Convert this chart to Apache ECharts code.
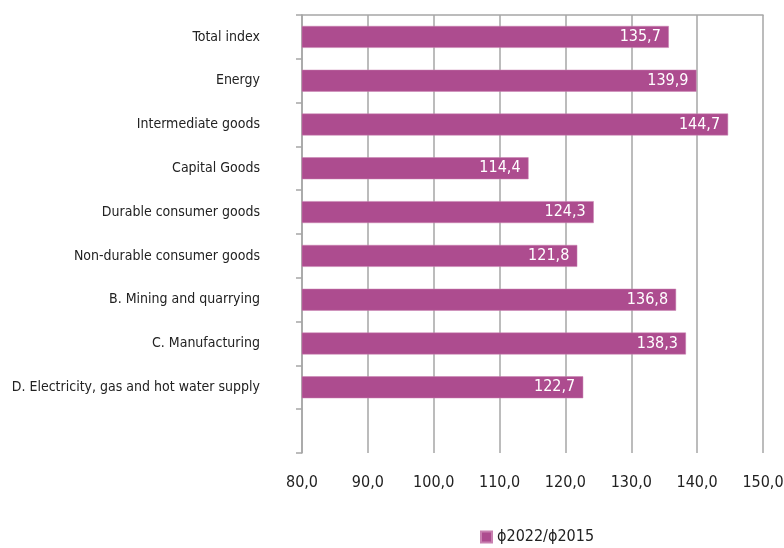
<!DOCTYPE html>
<html><head><meta charset="utf-8">
<script src="https://cdn.jsdelivr.net/npm/echarts@6/dist/echarts.min.js"></script>
<style>html,body{margin:0;padding:0;background:#fff}#c{width:784px;height:548px}</style>
</head><body><div id="c"></div>
<script>
const categories = ['Total index','Energy','Intermediate goods','Capital Goods','Durable consumer goods','Non-durable consumer goods','B. Mining and quarrying','C. Manufacturing','D. Electricity, gas and hot water supply',''];
const values = [135.7,139.9,144.7,114.4,124.3,121.8,136.8,138.3,122.7,null];
const seriesName = 'ϕ2022/ϕ2015';
const xMin = 80, xMax = 150, xStep = 10;

const FONT = '"DejaVu Sans Condensed","Liberation Sans",sans-serif';
const chart = echarts.init(document.getElementById('c'));
chart.setOption({
  animation: false,
  textStyle: {fontFamily: FONT},
  grid: {left: 302, right: 21, top: 15, bottom: 95, containLabel: false, outerBoundsMode: 'none'},
  legend: {
    bottom: -2, left: 475, itemWidth: 11, itemHeight: 11, icon: 'rect', itemGap: 6,
    textStyle: {fontFamily: FONT, fontSize: 16, color: '#222'},
    data: [seriesName]
  },
  xAxis: [{
    type: 'value', min: xMin, max: xMax, interval: xStep, position: 'bottom',
    axisLine: {show: false}, axisTick: {show: false},
    axisLabel: {fontFamily: FONT, fontSize: 16, color: '#222', margin: 22,
      formatter: v => v.toFixed(1).replace('.', ',')},
    splitLine: {show: true, lineStyle: {color: '#a6a6a6', width: 1.5}}
  },{
    type: 'value', min: xMin, max: xMax, position: 'top',
    axisLine: {show: true, lineStyle: {color: '#a6a6a6', width: 1.5}},
    axisTick: {show: false}, axisLabel: {show: false}, splitLine: {show: false}
  }],
  yAxis: {
    type: 'category', data: categories, inverse: true,
    axisLine: {show: true, lineStyle: {color: '#a6a6a6', width: 1.5}},
    axisTick: {show: true, length: 6, lineStyle: {color: '#a6a6a6', width: 1.5}},
    axisLabel: {fontFamily: FONT, fontSize: 14, color: '#222', margin: 42}
  },
  series: [{
    name: seriesName, type: 'bar', data: values, barWidth: '50%',
    itemStyle: {color: '#ad4c8f', borderColor: '#c880b0', borderWidth: 0.5},
    label: {show: true, position: 'insideRight', distance: 8, color: '#fff',
      fontFamily: FONT, fontSize: 16,
      formatter: p => p.value == null ? '' : p.value.toFixed(1).replace('.', ',')}
  }]
});
</script></body></html>
